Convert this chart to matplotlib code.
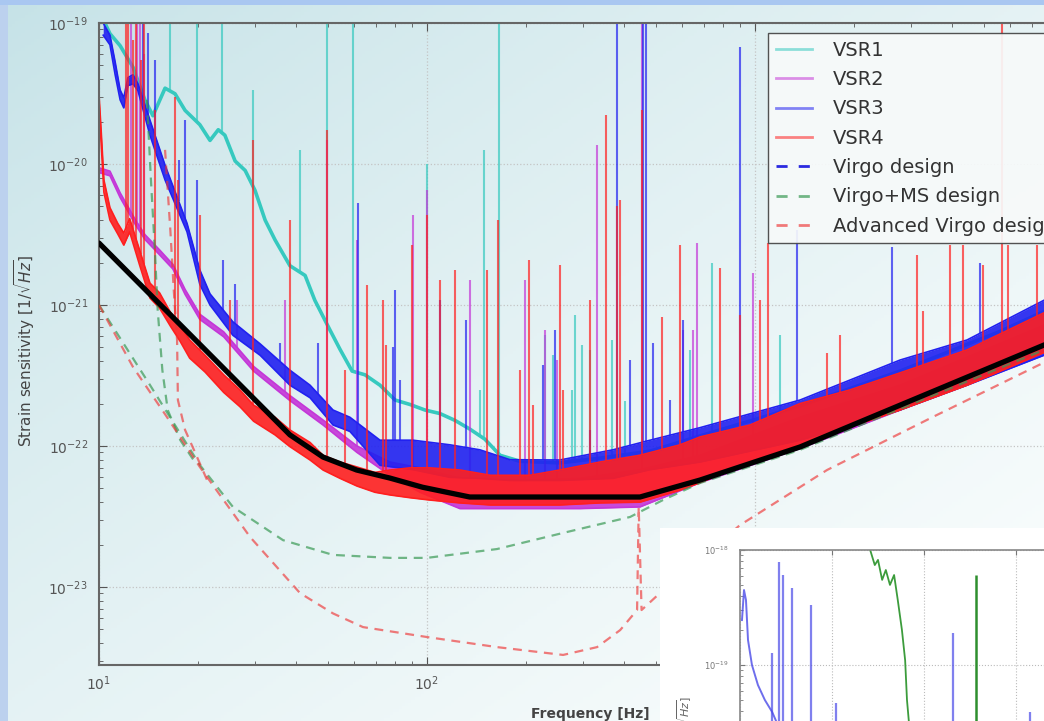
import numpy as np
import matplotlib
matplotlib.use("Agg")
import matplotlib.pyplot as plt
from matplotlib.lines import Line2D
from matplotlib.patches import Rectangle
from matplotlib.ticker import FuncFormatter

# --- VSR1: a single noisy trace, frequency [Hz] / strain [1/sqrt(Hz)]
vsr1_f = [10.3, 10.8, 11.6, 12.7, 13.8, 14.6, 15.9, 17.05, 18.3, 20.3, 21.8, 23.1, 24.2, 26.0, 27.9,
          29.9, 32.1, 34.4, 38.2, 42.5, 45.5, 50.6, 54.3, 59.1, 64.7, 71.9, 79.9, 88.8, 98.6, 109.5,
          121.7, 135, 150, 167, 192, 254, 337, 479, 680, 1372, 2767, 5585, 7600]
vsr1_h = [1.06e-19, 8.4e-20, 6.9e-20, 4.85e-20, 2.85e-20, 2.2e-20, 3.45e-20, 3.15e-20, 2.4e-20, 1.9e-20,
          1.47e-20, 1.75e-20, 1.6e-20, 1.05e-20, 9.0e-21, 6.5e-21, 4.0e-21, 2.9e-21, 1.9e-21, 1.62e-21,
          1.08e-21, 6.65e-22, 4.85e-22, 3.4e-22, 3.2e-22, 2.7e-22, 2.12e-22, 1.97e-22, 1.8e-22, 1.7e-22,
          1.52e-22, 1.32e-22, 1.12e-22, 8.6e-23, 7.8e-23, 7.6e-23, 8.2e-23, 9.2e-23, 1.18e-22, 1.92e-22,
          3.4e-22, 6.5e-22, 9.0e-22]
vsr1_lines_f = [16.5, 19.9, 23.7, 29.5, 41.0, 49.6, 59.6, 100, 145, 149, 166, 229, 242, 277, 283, 297,
                314, 367, 402, 634, 740, 1191]
vsr1_lines_h = [1.5e-19, 1.5e-19, 1.5e-19, 3.35e-20, 1.26e-20, 1.5e-19, 1.5e-19, 1.0e-20, 2.5e-22, 1.26e-20,
                1.5e-19, 6.1e-22, 4.4e-22, 2.5e-22, 8.5e-22, 5.2e-22, 4.8e-22, 5.65e-22, 2.1e-22, 4.8e-22,
                2.0e-21, 6.1e-22]

# --- VSR2..VSR4: noise floor envelopes (lower / upper edge) and line spikes
vsr2_f = [10.0, 10.8, 11.6, 12.2, 12.9, 13.8, 15.3, 16.8, 18.3, 20.3, 24.0, 29.6, 38.2, 48.2, 61.2,
          77.1, 95.2, 126, 192, 293, 446, 680, 1372, 2767, 7600]
vsr2_lo = [8.7e-21, 8.25e-21, 5.78e-21, 4.7e-21, 3.73e-21, 2.92e-21, 2.27e-21, 1.8e-21, 1.19e-21, 7.9e-22,
           5.95e-22, 3.4e-22, 2.1e-22, 1.41e-22, 9.0e-23, 6.2e-23, 4.7e-23, 3.6e-23, 3.6e-23, 3.6e-23,
           3.7e-23, 5.5e-23, 9.6e-23, 1.8e-22, 4.8e-22]
vsr2_hi = [9.4e-21, 8.9e-21, 6.25e-21, 5.08e-21, 4.03e-21, 3.16e-21, 2.46e-21, 1.94e-21, 1.29e-21, 8.6e-22,
           6.45e-22, 3.67e-22, 2.28e-22, 1.53e-22, 1.0e-22, 7.7e-23, 7.0e-23, 5.9e-23, 5.7e-23, 5.9e-23,
           6.8e-23, 8.6e-23, 1.6e-22, 2.7e-22, 7.2e-22]
vsr2_lines_f = [12.5, 13.06, 13.3, 13.75, 26.4, 36.9, 49.6, 61.2, 90.6, 100, 135, 199, 229, 249, 330, 452,
                603, 647, 665, 986]
vsr2_lines_h = [1.5e-19, 1.5e-19, 1.5e-19, 6.0e-20, 1.08e-21, 1.08e-21, 1.48e-20, 2.9e-21, 4.35e-21, 6.5e-21,
                1.5e-21, 1.5e-21, 6.65e-22, 4.07e-22, 1.36e-20, 1.5e-19, 6.6e-22, 6.6e-22, 2.75e-21, 1.7e-21]

vsr3_f = [10.3, 10.8, 11.2, 11.6, 11.9, 12.25, 12.7, 13.15, 14.3, 15.9, 18.55, 20.3, 21.8, 25.6, 31.0,
          38.2, 44.0, 51.7, 58.2, 71.9, 90.6, 117.5, 145, 179, 254, 369, 479, 680, 1372, 2767, 4430, 7600]
vsr3_lo = [8.2e-20, 7.0e-20, 4.3e-20, 2.85e-20, 2.5e-20, 3.6e-20, 3.7e-20, 3.3e-20, 1.6e-20, 7.7e-21,
           3.3e-21, 1.4e-21, 1.0e-21, 6.1e-22, 4.4e-22, 2.7e-22, 2.2e-22, 1.41e-22, 1.27e-22, 7.3e-23,
           6.8e-23, 6.0e-23, 5.9e-23, 5.7e-23, 5.7e-23, 5.9e-23, 6.8e-23, 7.7e-23, 1.1e-22, 1.8e-22,
           2.7e-22, 4.4e-22]
vsr3_hi = [1.0e-19, 8.2e-20, 5.3e-20, 3.35e-20, 2.95e-20, 4.1e-20, 4.3e-20, 3.7e-20, 2.05e-20, 9.8e-21,
           3.8e-21, 1.77e-21, 1.2e-21, 7.6e-22, 5.3e-22, 3.45e-22, 2.7e-22, 1.8e-22, 1.6e-22, 1.1e-22,
           1.1e-22, 1.02e-22, 9.4e-23, 8.0e-23, 7.96e-23, 9.4e-23, 1.1e-22, 1.35e-22, 2.12e-22, 4.07e-22,
           5.65e-22, 1.08e-21]
vsr3_lines_f = [13.6, 14.1, 14.8, 17.5, 18.3, 19.9, 23.9, 26.0, 35.6, 46.5, 61.6, 78.7, 79.9, 82.7, 109.5,
                131.5, 226, 245, 314, 380, 416, 456, 465, 489, 551, 603, 900, 1343, 2617, 4853]
vsr3_lines_h = [1.5e-19, 8.5e-20, 5.5e-20, 1.07e-20, 2.05e-20, 7.7e-21, 2.1e-21, 1.4e-21, 5.4e-22, 5.4e-22,
                5.3e-21, 5.0e-22, 1.28e-21, 2.94e-22, 1.08e-21, 7.8e-22, 3.75e-22, 6.65e-22, 1.3e-22, 1.5e-19,
                4.07e-22, 1.5e-19, 1.5e-19, 5.4e-22, 2.12e-22, 7.8e-22, 6.75e-20, 3.4e-21, 2.6e-21, 2.0e-21]

vsr4_f = [10.0, 10.15, 10.35, 10.8, 11.4, 11.9, 12.4, 13.3, 14.3, 15.3, 16.5, 17.7, 18.9, 21.05, 24.0,
          26.9, 29.6, 34.4, 38.2, 44.0, 48.2, 54.3, 61.2, 69.4, 77.1, 88.8, 102, 126, 156, 206, 254,
          337, 446, 591, 680, 966, 1372, 1948, 2767, 4430, 7600]
vsr4_lo = [2.5e-20, 1.42e-20, 6.3e-21, 4.0e-21, 3.2e-21, 2.66e-21, 3.3e-21, 1.92e-21, 1.12e-21, 9.5e-22,
           7.1e-22, 5.5e-22, 4.2e-22, 3.35e-22, 2.4e-22, 1.9e-22, 1.5e-22, 1.2e-22, 9.9e-23, 7.96e-23,
           6.76e-23, 5.9e-23, 5.2e-23, 4.7e-23, 4.5e-23, 4.3e-23, 4.14e-23, 3.95e-23, 3.82e-23, 3.82e-23,
           3.82e-23, 3.95e-23, 4.0e-23, 4.87e-23, 5.5e-23, 7.7e-23, 1.02e-22, 1.36e-22, 1.8e-22, 2.7e-22,
           4.6e-22]
vsr4_hi = [3.1e-20, 1.74e-20, 7.7e-21, 4.9e-21, 3.8e-21, 3.24e-21, 4.1e-21, 2.45e-21, 1.43e-21, 1.22e-21,
           8.9e-22, 7.2e-22, 5.65e-22, 4.4e-22, 3.2e-22, 2.5e-22, 1.95e-22, 1.6e-22, 1.3e-22, 1.06e-22,
           8.6e-23, 7.7e-23, 7.1e-23, 6.5e-23, 6.76e-23, 7.0e-23, 7.0e-23, 6.76e-23, 6.2e-23, 6.2e-23,
           6.76e-23, 7.7e-23, 8.6e-23, 1.02e-22, 1.16e-22, 1.41e-22, 2.0e-22, 2.5e-22, 3.3e-22, 4.8e-22,
           8.8e-22]
vsr4_lines_f = [12.05, 12.25, 12.7, 12.97, 13.4, 13.7, 14.8, 17.05, 17.4, 20.3, 25.1, 29.5, 38.2, 49.6,
                56.2, 65.6, 73.4, 75, 90, 100, 109.5, 121.7, 152, 165, 192, 205, 210.6, 254, 260, 314,
                351, 380, 388, 452, 521, 591, 782, 900, 1036, 1096, 1658, 1816, 3119, 3252, 3932, 4305,
                4955, 5660, 5900, 7245]
vsr4_lines_h = [1.5e-19, 1.5e-19, 7.6e-20, 1.5e-19, 5.5e-20, 1.5e-19, 2.4e-20, 3.0e-20, 7.7e-21, 4.35e-21,
                1.08e-21, 1.48e-20, 4.0e-21, 1.74e-20, 3.46e-22, 1.39e-21, 1.08e-21, 5.2e-22, 2.66e-21,
                4.35e-21, 1.5e-21, 1.77e-21, 1.77e-21, 4.0e-21, 3.46e-22, 2.08e-21, 1.95e-22, 1.92e-21,
                2.5e-22, 1.08e-21, 2.23e-20, 5.0e-21, 5.55e-21, 2.4e-20, 8.2e-22, 2.66e-21, 1.84e-21,
                8.5e-22, 1.08e-21, 2.75e-21, 4.6e-22, 6.1e-22, 2.26e-21, 9.0e-22, 2.66e-21, 2.66e-21,
                1.92e-21, 1.5e-19, 2.66e-21, 2.66e-21]

# --- design curves
virgo_f = [10, 38.2, 48.2, 61, 77, 97, 135, 337, 446, 680, 1372, 7600, 10000]
virgo_h = [2.75e-21, 1.2e-22, 8.35e-23, 6.76e-23, 5.93e-23, 5.1e-23, 4.35e-23, 4.35e-23, 4.35e-23,
           5.74e-23, 9.85e-23, 5.2e-22, 6.65e-22]

vms_f = [10, 14.3, 20.3, 25.6, 36.4, 51.7, 77.1, 100, 163.5, 260, 416, 524, 680, 1372, 7600]
vms_h = [1e-21, 2.71e-22, 7.33e-23, 3.7e-23, 2.15e-23, 1.69e-23, 1.61e-23, 1.61e-23, 1.86e-23, 2.42e-23,
         3.14e-23, 4.14e-23, 5.47e-23, 9.4e-23, 4.8e-22]
vms_wall_f = [14.0, 14.4, 14.8, 15.1, 15.6, 16.2, 17.7, 19.6]
vms_wall_h = [2.85e-20, 7.7e-21, 2.45e-21, 9.2e-22, 3.46e-22, 1.8e-22, 1.1e-22, 7.7e-23]

adv_f = [10, 12.7, 16.1, 20.3, 28.9, 41.0, 51.7, 63.8, 100, 163.5, 260, 330, 388, 437, 442, 451, 513,
         900, 1658, 3490, 7550]
adv_h = [1e-21, 3.63e-22, 1.61e-22, 7.1e-23, 2.26e-23, 9.06e-24, 6.5e-24, 5.2e-24, 4.42e-24, 3.75e-24,
         3.3e-24, 3.75e-24, 4.95e-24, 6.87e-24, 3.7e-23, 6.87e-24, 9.06e-24, 2.75e-23, 6.76e-23,
         1.61e-22, 3.88e-22]
adv_wall_f = [15.9, 16.5, 16.9, 17.3, 17.4, 18.3, 19.6, 21.35]
adv_wall_h = [1.26e-20, 3.4e-21, 1.28e-21, 5.65e-22, 2.12e-22, 1.3e-22, 9.07e-23, 5.74e-23]

# --- inset (low frequency detail)
inset_blue_f = [0.43, 0.87, 1.3, 1.74, 2.6, 3.9, 5.4, 7.0, 8.7, 12]
inset_blue_h = [2.46e-19, 4.49e-19, 3.67e-19, 1.65e-19, 1e-19, 6.7e-20, 4.97e-20, 3.9e-20, 2.72e-20, 1.5e-20]
inset_blue_lines_f = [7.0, 8.5, 9.35, 11.3, 15.4, 20.9, 46.3, 63.0]
inset_blue_lines_h = [1.27e-19, 7.86e-19, 6.06e-19, 4.67e-19, 3.32e-19, 4.7e-20, 1.9e-19, 3.9e-20]
inset_green_f = [27.2, 28.3, 29.3, 30.0, 30.9, 31.7, 32.6, 33.5, 34.3, 35.2, 35.9, 36.3, 36.7, 37.5]
inset_green_h = [1.2e-18, 1e-18, 7.4e-19, 8.2e-19, 5.5e-19, 6.7e-19, 4.97e-19, 6.06e-19, 3.67e-19,
                 2.02e-19, 1.1e-19, 4.97e-20, 3.26e-20, 1.49e-20]
inset_green_lines_f = [51.3]
inset_green_lines_h = [6.06e-19]

labels = ["VSR1", "VSR2", "VSR3", "VSR4", "Virgo design", "Virgo+MS design", "Advanced Virgo design"]
run_colors = ["#36c9bf", "#c437d8", "#2121f0", "#ff1f1f"]


def floor_at(f, env_f, env_h):
    return 10 ** np.interp(np.log10(f), np.log10(env_f), np.log10(env_h))


def decade_label(v, pos):
    return r"$\mathdefault{10^{%d}}$" % round(np.log10(v))


W, H = 1044, 721
fig = plt.figure(figsize=(W / 100, H / 100), dpi=100)

# slide background
bg = fig.add_axes([0, 0, 1, 1], zorder=-10)
yy, xx = np.mgrid[0:1:240j, 0:1:340j]
t = np.clip(0.55 * xx + 0.55 * yy, 0, 1) ** 0.8
c0 = np.array([0.77, 0.885, 0.905])
c1 = np.array([0.975, 0.99, 0.99])
bg.imshow(c0 + (c1 - c0) * t[..., None], extent=[0, 1, 0, 1], aspect="auto", origin="upper")
bg.axis("off")

ax = fig.add_axes([99 / W, 1 - 665 / H, 984 / W, 642 / H])
ax.set_facecolor("none")
ax.set_xscale("log")
ax.set_yscale("log")

ax.plot(vsr1_f, vsr1_h, color=run_colors[0], lw=2.6, zorder=2)
ax.vlines(vsr1_lines_f, floor_at(vsr1_lines_f, vsr1_f, vsr1_h), vsr1_lines_h,
          colors=run_colors[0], lw=1.5, alpha=0.7, zorder=2)

runs = [
    (vsr2_f, vsr2_lo, vsr2_hi, vsr2_lines_f, vsr2_lines_h),
    (vsr3_f, vsr3_lo, vsr3_hi, vsr3_lines_f, vsr3_lines_h),
    (vsr4_f, vsr4_lo, vsr4_hi, vsr4_lines_f, vsr4_lines_h),
]
for k, ((f, lo, hi, lf, lh), col) in enumerate(zip(runs, run_colors[1:])):
    z = 2.1 + 0.1 * k
    ax.fill_between(f, lo, hi, color=col, lw=0, alpha=0.9, zorder=z)
    ax.plot(f, lo, color=col, lw=1.2, zorder=z)
    ax.plot(f, hi, color=col, lw=1.2, zorder=z)
    ax.vlines(lf, floor_at(lf, f, hi), lh, colors=col, lw=1.5, alpha=0.7, zorder=z)

dash = (4, 3)
ax.plot(virgo_f, virgo_h, color="#2a2ae0", lw=1.6, dashes=dash, zorder=3)
ax.plot(vms_f, vms_h, color="#3a9a55", lw=1.6, dashes=dash, alpha=0.7, zorder=3)
ax.plot(vms_wall_f, vms_wall_h, color="#3a9a55", lw=1.6, dashes=dash, alpha=0.7, zorder=3)
ax.plot(adv_f, adv_h, color="#ee3535", lw=1.6, dashes=dash, alpha=0.65, zorder=3)
ax.plot(adv_wall_f, adv_wall_h, color="#ee3535", lw=1.6, dashes=dash, alpha=0.65, zorder=3)

# hand drawn reference curve on top
ax.plot(virgo_f, virgo_h, color="black", lw=3.8, solid_capstyle="round", zorder=6)

ax.set_xlim(10, 1e4)
ax.set_ylim(2.8e-24, 1e-19)
ax.xaxis.set_major_formatter(FuncFormatter(lambda v, p: decade_label(v, p) if v < 5e3 else ""))
ax.grid(True, which="major", linestyle=":", color="#c4c4c4", lw=0.9)
ax.tick_params(which="both", direction="in", top=True, right=True, color="#555555",
               labelcolor="#555555", labelsize=10)
ax.tick_params(which="major", length=6)
ax.tick_params(which="minor", length=3)
ax.tick_params(axis="y", pad=8)
ax.tick_params(axis="x", pad=7)
for s in ax.spines.values():
    s.set_color("#666666")
    s.set_linewidth(1.5)

ax.set_xlabel("Frequency [Hz]", fontsize=10, fontweight="bold", color="#444444")
ax.xaxis.set_label_coords(0.499, -0.065)
ax.set_ylabel(r"Strain sensitivity [$1/\sqrt{Hz}$]", fontsize=11, color="#444444")
ax.yaxis.set_label_coords(-0.063, 0.49)

handles = [Line2D([], [], color=c, lw=2, alpha=0.55) for c in run_colors]
handles += [
    Line2D([], [], color="#2a2ae0", lw=2, dashes=(4, 4)),
    Line2D([], [], color="#3a9a55", lw=2, dashes=(4, 4), alpha=0.7),
    Line2D([], [], color="#ee3535", lw=2, dashes=(4, 4), alpha=0.65),
]
leg = ax.legend(handles, labels, loc="upper left", bbox_to_anchor=(768 / W, 1 - 33 / H),
                bbox_transform=fig.transFigure, borderaxespad=0, fontsize=14, labelspacing=0.53,
                handlelength=1.85, handletextpad=1.07, borderpad=0.4, fancybox=False,
                framealpha=0.92, edgecolor="#444444", facecolor="#f7fafa")
for txt in leg.get_texts():
    txt.set_color("#333333")
leg.set_zorder(10)

# inset figure pasted over the lower right corner
fig.patches.append(Rectangle((660 / W, 0), 1, (H - 528) / H, transform=fig.transFigure,
                             facecolor="white", edgecolor="none", zorder=1))
ins = fig.add_axes([740 / W, 1 - 1040 / H, 460 / W, 490 / H], zorder=2)
ins.set_facecolor("white")
ins.set_yscale("log")
ins.set_xlim(0, 100)
ins.set_ylim(10 ** -22.26, 1e-18)
ins.plot(inset_blue_f, inset_blue_h, color="#4a4ae8", lw=1.4, alpha=0.8)
ins.vlines(inset_blue_lines_f, 1e-22, inset_blue_lines_h, colors="#4a4ae8", lw=1.6, alpha=0.7)
ins.plot(inset_green_f, inset_green_h, color="#3c9c3c", lw=1.3)
ins.vlines(inset_green_lines_f, 1e-22, inset_green_lines_h, colors="#2e8f2e", lw=1.8)
ins.grid(True, which="major", linestyle=":", color="#bbbbbb", lw=0.8)
ins.yaxis.set_major_formatter(FuncFormatter(lambda v, p: decade_label(v, p) if v > 3e-20 else ""))
ins.tick_params(which="both", direction="in", top=True, right=True, color="#777777",
                labelcolor="#777777", labelsize=6, pad=8, labelbottom=False)
for s in ins.spines.values():
    s.set_color("#888888")
    s.set_linewidth(1.2)
ins.set_ylabel(r"Strain sensitivity [$1/\sqrt{Hz}$]", fontsize=8, color="#666666")
ins.yaxis.set_label_coords(-0.1, 0.56)

# slide frame strips
fig.patches.append(Rectangle((0, 0), 8 / W, 1, transform=fig.transFigure,
                             facecolor="#bcd1ee", edgecolor="none", zorder=3))
fig.patches.append(Rectangle((0, 1 - 5 / H), 1, 5 / H, transform=fig.transFigure,
                             facecolor="#a9c7f1", edgecolor="none", zorder=3))

fig.savefig("out.png", dpi=100)
